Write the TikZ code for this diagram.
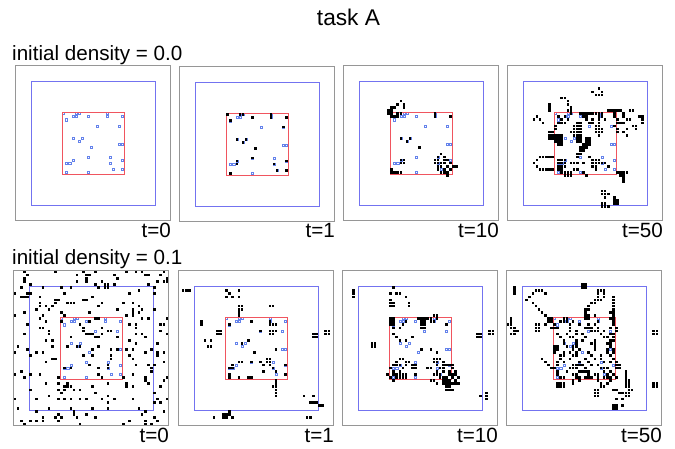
\documentclass[tikz,border=0pt]{standalone}
\usepackage{fontspec}
\setmainfont{Liberation Sans}

\definecolor{framegray}{RGB}{150,150,150}
\definecolor{zoneblue}{RGB}{115,115,240}
\definecolor{corered}{RGB}{240,85,95}
\definecolor{seedblue}{RGB}{100,130,235}

\tikzset{
  outerbox/.style={draw=framegray, line width=1.2bp},
  zonebox/.style={draw=zoneblue, line width=1.2bp},
  corebox/.style={draw=corered, line width=1.2bp},
  seedcell/.style={draw=seedblue, line width=0.55bp},
  livecell/.style={fill=black},
  lbl/.style={inner sep=0pt, font=\fontsize{20.7}{24}\selectfont},
  ttl/.style={inner sep=0pt, font=\fontsize{22.8}{26}\selectfont}
}

% one row of live cells: #1 = row index, #2 = list of column indices (grid pitch 3.1)
\newcommand\cellrow[2]{\foreach \q in {#2}{\fill[livecell] ({\q*3.1+0.25},{#1*3.1+0.25}) rectangle ++(2.6,2.6);}}
% one row of hollow seed cells
\newcommand\seedrow[2]{\foreach \q in {#2}{\draw[seedcell] ({\q*3.1+0.5},{#1*3.1+0.5}) rectangle ++(2.1,2.1);}}

% frame of a 50x50 world: outer box, 40x40 zone, seed pattern, 20x20 core
\newcommand\worldframe{%
  \draw[outerbox] (0,0) rectangle (155,155);
  \draw[zonebox] (16,16) rectangle (140,140);
  \seedrow{15}{15,19,20,29}
  \seedrow{16}{18,19,23,29,34}
  \seedrow{17}{16}
  \seedrow{19}{26,33}
  \seedrow{23}{18,21}
  \seedrow{24}{20}
  \seedrow{25}{33,34}
  \seedrow{26}{24}
  \seedrow{29}{23,30}
  \seedrow{30}{18,34}
  \seedrow{31}{16,17,30}
  \seedrow{33}{31,34}
  \seedrow{34}{16,23}
  \draw[corebox] (47,47) rectangle (109,109);
}

\begin{document}
\begin{tikzpicture}[x=1bp, y=-1bp]
\useasboundingbox (0,0) rectangle (675,449);
\fill[white] (0,0) rectangle (675,449);

\node[ttl, anchor=base] (title) at (348.5,26) {task A};
\node[lbl, anchor=base west] (densA) at (12,61) {initial density = 0.0};
\node[lbl, anchor=base west] (densB) at (12,265) {initial density = 0.1};

% ---------- density 0.0, t=0 ----------
\begin{scope}[shift={(15.5,65.5)}]
  \worldframe
\end{scope}

% ---------- density 0.0, t=1 ----------
\begin{scope}[shift={(179.5,66.5)}]
  \worldframe
  \cellrow{15}{15,19,20,29}
  \cellrow{16}{23,29,34}
  \cellrow{17}{16}
  \cellrow{19}{33}
  \cellrow{23}{18,21}
  \cellrow{24}{20}
  \cellrow{26}{24}
  \cellrow{29}{23}
  \cellrow{30}{18,34}
  \cellrow{31}{18,30}
  \cellrow{33}{31,34}
  \cellrow{34}{16}
\end{scope}

% ---------- density 0.0, t=10 ----------
\begin{scope}[shift={(343.5,65.5)}]
  \worldframe
  \cellrow{11}{18}
  \cellrow{12}{17,19}
  \cellrow{13}{15,16,19}
  \cellrow{14}{14,15}
  \cellrow{15}{14,15,17,18,29}
  \cellrow{16}{15,16,17,29,34}
  \cellrow{23}{18,21}
  \cellrow{24}{20}
  \cellrow{26}{24}
  \cellrow{28}{31}
  \cellrow{29}{30,32}
  \cellrow{30}{18,19,29,30,32,33}
  \cellrow{31}{18,19,29,30,31,32,34}
  \cellrow{32}{30,31,33,35,36}
  \cellrow{33}{15,30,32,34}
  \cellrow{34}{15,16,17,18,31,32,33}
  \cellrow{35}{33}
\end{scope}

% ---------- density 0.0, t=50 ----------
\begin{scope}[shift={(507.5,65.5)}]
  \worldframe
  \cellrow{7}{29}
  \cellrow{8}{27,30}
  \cellrow{9}{28,29,30}
  \cellrow{10}{17,18}
  \cellrow{11}{19}
  \cellrow{12}{13,19}
  \cellrow{13}{13,20}
  \cellrow{14}{13,19,20,32,33,34,35,36,39,40}
  \cellrow{15}{20,23,24,25,26,27,28,29,30,34,37}
  \cellrow{16}{9,16,18,24,25,29,30,34,37,42,43}
  \cellrow{17}{8,10,17,19,25,27,29,31,35,38,39,43}
  \cellrow{18}{11,16,17,18,22,23,26,27,29,35,36,37,43}
  \cellrow{19}{15,21,22,23,28,29,34,40,41}
  \cellrow{20}{15,21,22,23,28,29,30,35,38,41}
  \cellrow{21}{13,14,20,21,22,23,28,29,30,35,37}
  \cellrow{22}{13,14,15,16,17,21,22,23,29,38}
  \cellrow{23}{13,14,15,16,17,22,23,25,26}
  \cellrow{24}{15,16,17,22,23,25,26}
  \cellrow{25}{16,17,24,25,26}
  \cellrow{26}{23,24,25}
  \cellrow{27}{23,24}
  \cellrow{28}{22,23}
  \cellrow{29}{10,11,12,13,14,22,26}
  \cellrow{30}{9,16,17,18,27,28,29}
  \cellrow{31}{8,16,17,18,20,21,22,24,27,28,29,30,31}
  \cellrow{32}{9,16,17,18,27,28,32}
  \cellrow{33}{10,11,12,13,14,16,17,21,22,28}
  \cellrow{34}{17,18,19,20,24,35,36,37,38}
  \cellrow{35}{18,19,20,25,36,37}
  \cellrow{36}{37}
  \cellrow{37}{37}
  \cellrow{40}{30,31}
  \cellrow{41}{30,31,32}
  \cellrow{42}{31,34}
  \cellrow{43}{34,35}
  \cellrow{44}{30,31,34,35}
  \cellrow{45}{30,31,32}
\end{scope}

% ---------- density 0.1, t=0 (random soup) ----------
\begin{scope}[shift={(13.5,270.5)}]
  \worldframe
  \pgfmathsetseed{4242}
  \foreach \r in {0,...,49}{%
    \foreach \q in {0,...,49}{%
      \pgfmathtruncatemacro\hit{rnd<0.1}%
      \ifnum\hit=1
        \fill[livecell] ({\q*3.1+0.25},{\r*3.1+0.25}) rectangle ++(2.6,2.6);
      \fi
    }%
  }
\end{scope}

% ---------- density 0.1, t=1 ----------
\begin{scope}[shift={(178.5,270.5)}]
  \worldframe
  \cellrow{6}{1,2,3,15,19}
  \cellrow{7}{16}
  \cellrow{8}{15,17,19}
  \cellrow{11}{19,20,29,30}
  \cellrow{12}{19,20}
  \cellrow{13}{19}
  \cellrow{14}{19}
  \cellrow{16}{7,23,29}
  \cellrow{17}{7,16,29,30,31}
  \cellrow{19}{12,13,26,29,30,31,47,48}
  \cellrow{20}{12,13,29,30,43,44,47,48}
  \cellrow{21}{43,44}
  \cellrow{22}{8,10,22}
  \cellrow{23}{20}
  \cellrow{24}{9,10}
  \cellrow{25}{31}
  \cellrow{26}{24}
  \cellrow{28}{28,29}
  \cellrow{29}{19,20,23,26,28,29}
  \cellrow{30}{17,27,29,34}
  \cellrow{31}{16,17,30}
  \cellrow{32}{27,31}
  \cellrow{33}{16,34}
  \cellrow{34}{16,19,22,23}
  \cellrow{35}{31}
  \cellrow{36}{31}
  \cellrow{37}{30,31}
  \cellrow{38}{31}
  \cellrow{39}{31}
  \cellrow{40}{31,40,43}
  \cellrow{42}{42,43,44}
  \cellrow{43}{45,46}
  \cellrow{45}{16}
  \cellrow{46}{14,15,16}
  \cellrow{47}{11,14,15,17,41,42}
\end{scope}

% ---------- density 0.1, t=10 ----------
\begin{scope}[shift={(342.5,270.5)}]
  \worldframe
  \cellrow{5}{16}
  \cellrow{6}{3}
  \cellrow{7}{3,15,17,18}
  \cellrow{8}{3,20}
  \cellrow{9}{15}
  \cellrow{10}{15,16,21}
  \cellrow{11}{15,16,21}
  \cellrow{14}{29,30}
  \cellrow{15}{15,16,24,25,26,27,28,30}
  \cellrow{16}{15,16,20,25,26,28,29}
  \cellrow{17}{15,16,19,25,26,33}
  \cellrow{18}{16,18,25,26}
  \cellrow{19}{47,48}
  \cellrow{20}{16,43,44,47,48}
  \cellrow{21}{17,22,43,44}
  \cellrow{22}{18,20}
  \cellrow{23}{9,10}
  \cellrow{24}{9,10}
  \cellrow{25}{25,28}
  \cellrow{26}{30}
  \cellrow{28}{18,19,29,30,31}
  \cellrow{29}{17,20,21,29,30,32}
  \cellrow{30}{16,17,18,20,22,23,30,32,33,34,35}
  \cellrow{31}{15,19,22,23,27,28,31,32,35}
  \cellrow{32}{16,18,30,32,34,36}
  \cellrow{33}{14,16,17,18,19,20,23,29,30,31,34,35,36}
  \cellrow{34}{15,17,18,19,20,31,32,33,35,37}
  \cellrow{35}{16,28,29,32,33,34,36}
  \cellrow{36}{30,32,33,34,35,36,37}
  \cellrow{37}{33,34}
  \cellrow{38}{33,34,35}
  \cellrow{39}{46}
  \cellrow{40}{44,46}
  \cellrow{41}{46}
\end{scope}

% ---------- density 0.1, t=50 ----------
\begin{scope}[shift={(506.5,270.5)}]
  \worldframe
  \cellrow{4}{24,25}
  \cellrow{5}{2,24,25}
  \cellrow{6}{2,9,10,11,29,30,31}
  \cellrow{7}{2,8,12,29,31}
  \cellrow{8}{7,29,31,34}
  \cellrow{9}{6,28,29,30,34}
  \cellrow{10}{8,27,28,34}
  \cellrow{11}{9,26,34}
  \cellrow{12}{10,25,26,34}
  \cellrow{13}{11,25,33,34}
  \cellrow{14}{12,25,26,28,34}
  \cellrow{15}{1,13,14,18,19,25,26,33,34}
  \cellrow{16}{1,13,14,17,18,19,21,29,34}
  \cellrow{17}{0,1,9,10,12,15,20,23,26,28,34}
  \cellrow{18}{1,2,9,10,14,15,16,20,25,26,27,29,33,35}
  \cellrow{19}{2,3,9,10,20,22,27,28,29,31,35,47,48}
  \cellrow{20}{1,2,16,19,22,24,30,33,34,47,48}
  \cellrow{21}{17,20,21,25,31,32,34}
  \cellrow{22}{18,22,24,28,33,34}
  \cellrow{23}{18,22,27,28,32,33}
  \cellrow{24}{15,16,19,21,22,28,33}
  \cellrow{25}{15,16,21,23,28,32,34}
  \cellrow{26}{15,18,20,22,26,32,34}
  \cellrow{27}{17,18,21,22,27,30,33}
  \cellrow{28}{11,17,20,25,28,30,34}
  \cellrow{29}{12,16,18,23,26,31,33,35}
  \cellrow{30}{13,16,21,22,23,24,27,29,35,36}
  \cellrow{31}{14,15,20,21,22,25,30,31,32,35,36}
  \cellrow{32}{16,19,23,24,25,26,31,33,38}
  \cellrow{33}{16,21,22,26,28,29,32,34,38}
  \cellrow{34}{17,18,22,23,25,26,27,29,31,32,33,35,38}
  \cellrow{35}{21,23,29,33,38,39}
  \cellrow{36}{16,17,18,21,30,32,38,39,47,48}
  \cellrow{37}{16,17,18,30,31,38,39,47,48}
  \cellrow{38}{28,29,34,35,39,40}
  \cellrow{39}{28,29,36,37,38,39}
  \cellrow{40}{28,29,38,39}
  \cellrow{41}{35,37}
  \cellrow{43}{34,35,37}
  \cellrow{44}{34,35}
\end{scope}

% time stamps under each world
\node[lbl, anchor=base east] (tA0)  at (171,238) {t=0};
\node[lbl, anchor=base east] (tA1)  at (335,238) {t=1};
\node[lbl, anchor=base east] (tA10) at (499,238) {t=10};
\node[lbl, anchor=base east] (tA50) at (663,238) {t=50};
\node[lbl, anchor=base east] (tB0)  at (169,442) {t=0};
\node[lbl, anchor=base east] (tB1)  at (334,442) {t=1};
\node[lbl, anchor=base east] (tB10) at (498,442) {t=10};
\node[lbl, anchor=base east] (tB50) at (662,442) {t=50};
\end{tikzpicture}
\end{document}
